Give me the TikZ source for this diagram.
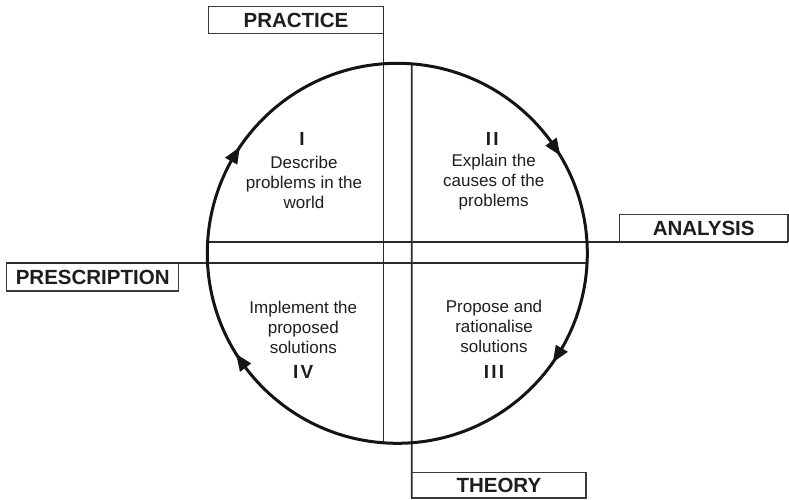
\documentclass[tikz,border=0pt]{standalone}
\usepackage{fontspec}
\setmainfont{Liberation Sans}
\begin{document}
\begin{tikzpicture}[x=1pt,y=1pt,
  labelbox/.style={draw=boxgray,line width=1.4pt,inner sep=0pt,outer sep=0pt,
    text=txt,font=\fontsize{20.5}{24}\selectfont\bfseries},
  phase/.style={text=txt,align=center,inner sep=0pt,
    font=\fontsize{17}{20}\selectfont},
  numeral/.style={text=txt,inner sep=0pt,
    font=\fontsize{19}{22}\selectfont\bfseries\addfontfeature{LetterSpace=12}},
  axis/.style={draw=linegray,line width=1.6pt},
  ring/.style={draw=black!92,line width=3pt}]
\definecolor{linegray}{HTML}{2B2B2B}
\definecolor{boxgray}{HTML}{3A3A3A}
\definecolor{txt}{HTML}{1E1E1E}
\useasboundingbox[fill=white] (0,0) rectangle (789,499);

\coordinate (C) at (397.3,245.7);

% label boxes
\node[labelbox,minimum width=174.6pt,minimum height=27pt] (practice) at (296,478.8) {PRACTICE};
\node[labelbox,minimum width=168.7pt,minimum height=27pt] (analysis) at (703.65,270.8) {ANALYSIS};
\node[labelbox,minimum width=172pt,minimum height=28pt] (prescription) at (92.7,222) {PRESCRIPTION};
\node[labelbox,minimum width=174.3pt,minimum height=25.7pt] (theory) at (498.85,13.85) {THEORY};

% end points of the axes on the ring
\coordinate (ringS) at (383.3,56.2);
\coordinate (ringN) at (411.7,435.2);
\coordinate (ringW) at (207.7,257.3);
\coordinate (ringE) at (587,236);

% axes
\draw[axis] (practice.north east) -- (ringS);
\draw[axis] (ringN) -- (theory.south west);
\draw[axis] (ringW) -- (ringW -| analysis.south east);
\draw[axis] (prescription.north west) -- (ringE);

% cycle
\draw[ring] (C) circle (190pt);
\foreach \t [evaluate=\t as \b using \t+5] in {146,31,-35,212}
  \fill[black!92,shift={(C)}] (\t:190pt) -- (\b:197pt) -- (\b:183pt) -- cycle;

% phases
\node[numeral] (n1) at (302,359.7) {I};
\node[phase] (p1) at (304,316.3) {Describe\\problems in the\\world};
\node[numeral] (n2) at (492.3,359.7) {II};
\node[phase] (p2) at (493.7,317.3) {Explain the\\causes of the\\problems};
\node[phase] (p3) at (494,172.3) {Propose and\\rationalise\\solutions};
\node[numeral] (n3) at (494,126.7) {III};
\node[phase] (p4) at (303.3,171.8) {Implement the\\proposed\\solutions};
\node[numeral] (n4) at (303.3,126.7) {IV};
\end{tikzpicture}
\end{document}
